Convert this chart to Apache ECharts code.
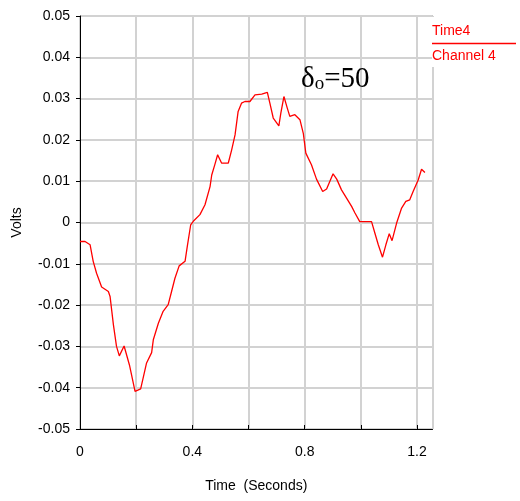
<!DOCTYPE html>
<html>
<head>
<meta charset="utf-8">
<script src="https://cdn.jsdelivr.net/npm/echarts@6/dist/echarts.min.js"></script>
<style>html,body{margin:0;padding:0;background:#fff;}#c{width:520px;height:501px;}</style>
</head>
<body>
<div id="c"></div>
<script>
// Time (s)
const times = [0, 0.018, 0.036, 0.047, 0.059, 0.077, 0.101, 0.107, 0.119, 0.130, 0.140, 0.157, 0.176, 0.196, 0.202, 0.216, 0.237, 0.255, 0.261, 0.279, 0.296, 0.314, 0.326, 0.338, 0.353, 0.374, 0.382, 0.394, 0.406, 0.427, 0.445, 0.463, 0.469, 0.480, 0.490, 0.504, 0.528, 0.540, 0.552, 0.563, 0.575, 0.587, 0.605, 0.623, 0.647, 0.667, 0.676, 0.688, 0.708, 0.715, 0.726, 0.738, 0.747, 0.765, 0.783, 0.795, 0.804, 0.824, 0.842, 0.864, 0.878, 0.901, 0.914, 0.931, 0.949, 0.967, 0.979, 0.996, 1.038, 1.050, 1.062, 1.077, 1.089, 1.101, 1.111, 1.127, 1.145, 1.160, 1.174, 1.186, 1.204, 1.216, 1.228];
// Volts
const volts = [-0.0046, -0.0046, -0.0054, -0.0094, -0.0123, -0.0156, -0.0167, -0.0179, -0.0248, -0.0300, -0.0323, -0.0299, -0.0345, -0.0409, -0.0413, -0.0403, -0.0340, -0.0315, -0.0284, -0.0244, -0.0215, -0.0199, -0.0167, -0.0135, -0.0105, -0.0094, -0.0058, -0.0006, 0.0005, 0.0019, 0.0043, 0.0087, 0.0115, 0.0140, 0.0164, 0.0144, 0.0144, 0.0176, 0.0212, 0.0269, 0.0289, 0.0293, 0.0293, 0.0309, 0.0311, 0.0315, 0.0289, 0.0253, 0.0234, 0.0265, 0.0305, 0.0277, 0.0257, 0.0261, 0.0249, 0.0216, 0.0168, 0.0140, 0.0105, 0.0075, 0.0081, 0.0118, 0.0105, 0.0079, 0.0059, 0.0039, 0.0023, 0.0002, 0.0002, -0.0026, -0.0054, -0.0084, -0.0054, -0.0027, -0.0044, -0.0002, 0.0035, 0.0051, 0.0055, 0.0075, 0.0103, 0.0129, 0.0121];
const xTickLabels = ['0', '0.4', '0.8', '1.2'];
const yTickLabels = ['-0.05', '-0.04', '-0.03', '-0.02', '-0.01', '0', '0.01', '0.02', '0.03', '0.04', '0.05'];
const seriesName = 'Channel 4';
const legendTop = 'Time4';
const annotationMain = 'δ';
const annotationSub = 'o';
const annotationRest = '=50';

const font = '"Liberation Sans", Arial, sans-serif';
const serif = '"Liberation Serif", "Times New Roman", serif';
const chart = echarts.init(document.getElementById('c'), null, {renderer: 'canvas'});
chart.setOption({
  animation: false,
  backgroundColor: '#fff',
  grid: {left: 80, top: 16, right: 87.5, bottom: 72, show: true, borderColor: '#000', borderWidth: 1, backgroundColor: 'transparent'},
  xAxis: {
    type: 'value', min: 0, max: 1.255, interval: 0.2,
    name: 'Time  (Seconds)', nameLocation: 'middle', nameGap: 50,
    nameTextStyle: {color: '#000', fontSize: 14, fontFamily: font},
    axisLine: {show: true, onZero: false, lineStyle: {color: '#000', width: 1}},
    axisTick: {show: true, inside: true, length: 4, lineStyle: {color: '#000'}},
    splitLine: {show: true, lineStyle: {color: '#d2d2d2', width: 2}},
    axisLabel: {
      color: '#000', fontSize: 14, fontFamily: font, margin: 16, showMaxLabel: false,
      formatter: function (v) {
        const s = String(Math.round(v * 10) / 10);
        return xTickLabels.indexOf(s) >= 0 ? s : '';
      }
    }
  },
  yAxis: {
    type: 'value', min: -0.05, max: 0.05, interval: 0.01,
    name: 'Volts', nameLocation: 'middle', nameGap: 56,
    nameTextStyle: {color: '#000', fontSize: 14, fontFamily: font},
    axisLine: {show: true, onZero: false, lineStyle: {color: '#000', width: 1}},
    axisTick: {show: true, inside: false, length: 4, lineStyle: {color: '#000'}},
    splitLine: {show: true, lineStyle: {color: '#d2d2d2', width: 2}},
    axisLabel: {
      color: '#000', fontSize: 14, fontFamily: font, margin: 10,
      formatter: function (v) {
        const idx = Math.round((v + 0.05) / 0.01);
        return yTickLabels[idx];
      }
    }
  },
  series: [{
    name: seriesName, type: 'line', showSymbol: false, symbol: 'none',
    data: times.map((t, i) => [t, volts[i]]),
    lineStyle: {color: '#ff0000', width: 1.3}, z: 5
  }],
  graphic: [
    {type: 'rect', z: 100, shape: {x: 432, y: 17, width: 88, height: 50}, style: {fill: '#fff'}},
    {type: 'text', z: 101, left: 432, top: 24, style: {text: legendTop, fill: '#ff0000', font: '14px ' + font}},
    {type: 'line', z: 101, shape: {x1: 432, y1: 43.5, x2: 516, y2: 43.5}, style: {stroke: '#ff0000', lineWidth: 1.5}},
    {type: 'text', z: 101, left: 432, top: 49, style: {text: seriesName, fill: '#ff0000', font: '14px ' + font}},
    {type: 'text', z: 101, left: 301, top: 65, style: {
      text: '{a|' + annotationMain + '}{b|' + annotationSub + '}{a|' + annotationRest + '}',
      rich: {
        a: {fontSize: 29, fontFamily: serif, fill: '#000', verticalAlign: 'bottom', lineHeight: 30},
        b: {fontSize: 19, fontFamily: serif, fill: '#000', verticalAlign: 'bottom', lineHeight: 8}
      }
    }}
  ]
});
</script>
</body>
</html>
